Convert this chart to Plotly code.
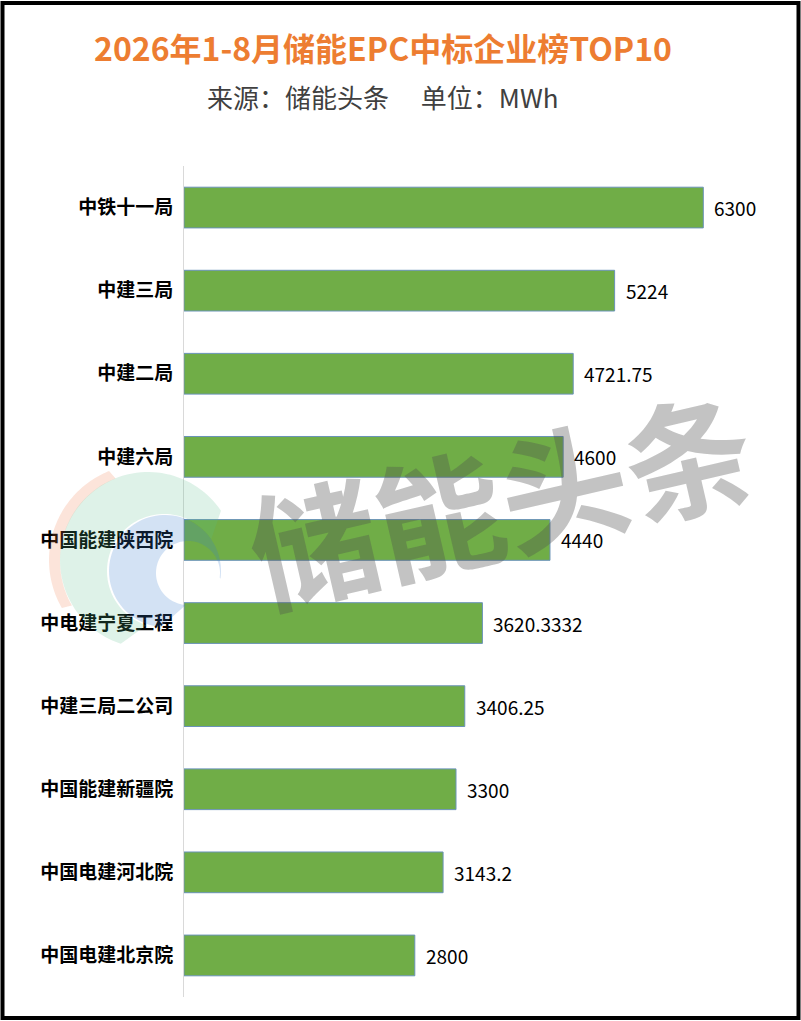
import numpy as np
import plotly.graph_objects as go

companies = ["中铁十一局", "中建三局", "中建二局", "中建六局", "中国能建陕西院",
             "中电建宁夏工程", "中建三局二公司", "中国能建新疆院", "中国电建河北院", "中国电建北京院"]
values = [6300, 5224, 4721.75, 4600, 4440, 3620.3332, 3406.25, 3300, 3143.2, 2800]
value_labels = ["6300", "5224", "4721.75", "4600", "4440", "3620.3332", "3406.25", "3300", "3143.2", "2800"]

title_text = "2026年1-8月储能EPC中标企业榜TOP10"
subtitle_text = "来源：储能头条\u3000 单位：MWh"
watermark_text = "储能头条"

FIG_W, FIG_H = 801, 1021
ML, MR, MT, MB = 184, 40, 166, 24
PW = FIG_W - ML - MR
PH = FIG_H - MT - MB
FONT = "Noto Sans CJK SC"


def px(x):
    return (x - ML) / PW


def py(y):
    return (FIG_H - MB - y) / PH


fig = go.Figure()
fig.add_trace(go.Bar(
    x=values, y=companies, orientation="h",
    marker=dict(color="#70AD47", line=dict(color="#6A93B8", width=1)),
    width=0.49, hoverinfo="skip",
))

annotations = []
for c, v, lab in zip(companies, values, value_labels):
    annotations.append(dict(x=v, y=c, xref="x", yref="y", text=lab, showarrow=False,
                            xanchor="left", yanchor="middle", xshift=9,
                            font=dict(family=FONT, size=19, color="#000000")))

# title & subtitle
annotations.append(dict(x=px(383), y=py(47), xref="paper", yref="paper", text=title_text,
                        showarrow=False, xanchor="center", yanchor="middle",
                        font=dict(family=FONT, size=32, color="#ED7D31", weight=700)))
annotations.append(dict(x=px(383), y=py(97), xref="paper", yref="paper", text=subtitle_text,
                        showarrow=False, xanchor="center", yanchor="middle",
                        font=dict(family=FONT, size=26, color="#404040")))
# watermark
annotations.append(dict(x=px(500), y=py(495), xref="paper", yref="paper", text=watermark_text,
                        showarrow=False, xanchor="center", yanchor="middle", textangle=-13,
                        font=dict(family=FONT, size=128, color="rgba(80,80,80,0.34)", weight=700)))

shapes = []


def crescent(c_out, r_out, c_in, r_in, a0, a1, color):
    t = np.radians(np.linspace(a0, a1, 80))
    ox = c_out[0] + r_out * np.cos(t)
    oy = c_out[1] - r_out * np.sin(t)
    ix = c_in[0] + r_in * np.cos(t[::-1])
    iy = c_in[1] - r_in * np.sin(t[::-1])
    xs = np.concatenate([ox, ix])
    ys = np.concatenate([oy, iy])
    path = "M " + " L ".join(f"{px(a):.5f},{py(b):.5f}" for a, b in zip(xs, ys)) + " Z"
    return dict(type="path", path=path, xref="paper", yref="paper",
                fillcolor=color, line=dict(width=0), layer="above")


# faint ring logo (decorative)
shapes.append(crescent((145, 560), 96, (149, 561), 89, 112, 210, "rgba(238,122,72,0.20)"))
shapes.append(crescent((148, 560), 88, (164, 571), 57, 34, 252, "rgba(88,188,138,0.20)"))
shapes.append(crescent((165, 571), 56, (188, 573), 32, -8, 266, "rgba(55,122,205,0.22)"))

# outer border
shapes.append(dict(type="rect", xref="paper", yref="paper",
                   x0=px(2.5), x1=px(798.5), y0=py(1018), y1=py(3),
                   line=dict(color="#000000", width=4), layer="above"))

fig.update_layout(
    width=FIG_W, height=FIG_H,
    margin=dict(l=ML, r=MR, t=MT, b=MB),
    paper_bgcolor="white", plot_bgcolor="white",
    showlegend=False,
    xaxis=dict(range=[0, 7000], visible=False, fixedrange=True),
    yaxis=dict(categoryorder="array", categoryarray=companies, autorange="reversed",
               showline=True, linecolor="#D9D9D9", linewidth=1, ticks="",
               showgrid=False, zeroline=False, ticklabelstandoff=6, fixedrange=True,
               tickfont=dict(family=FONT, size=19, color="#000000", weight=700)),
    annotations=annotations,
    shapes=shapes,
    bargap=0.51,
)

fig.write_html("out.html", config={"displayModeBar": False},
               post_script="document.body.style.margin='0';document.body.style.overflow='hidden';")
